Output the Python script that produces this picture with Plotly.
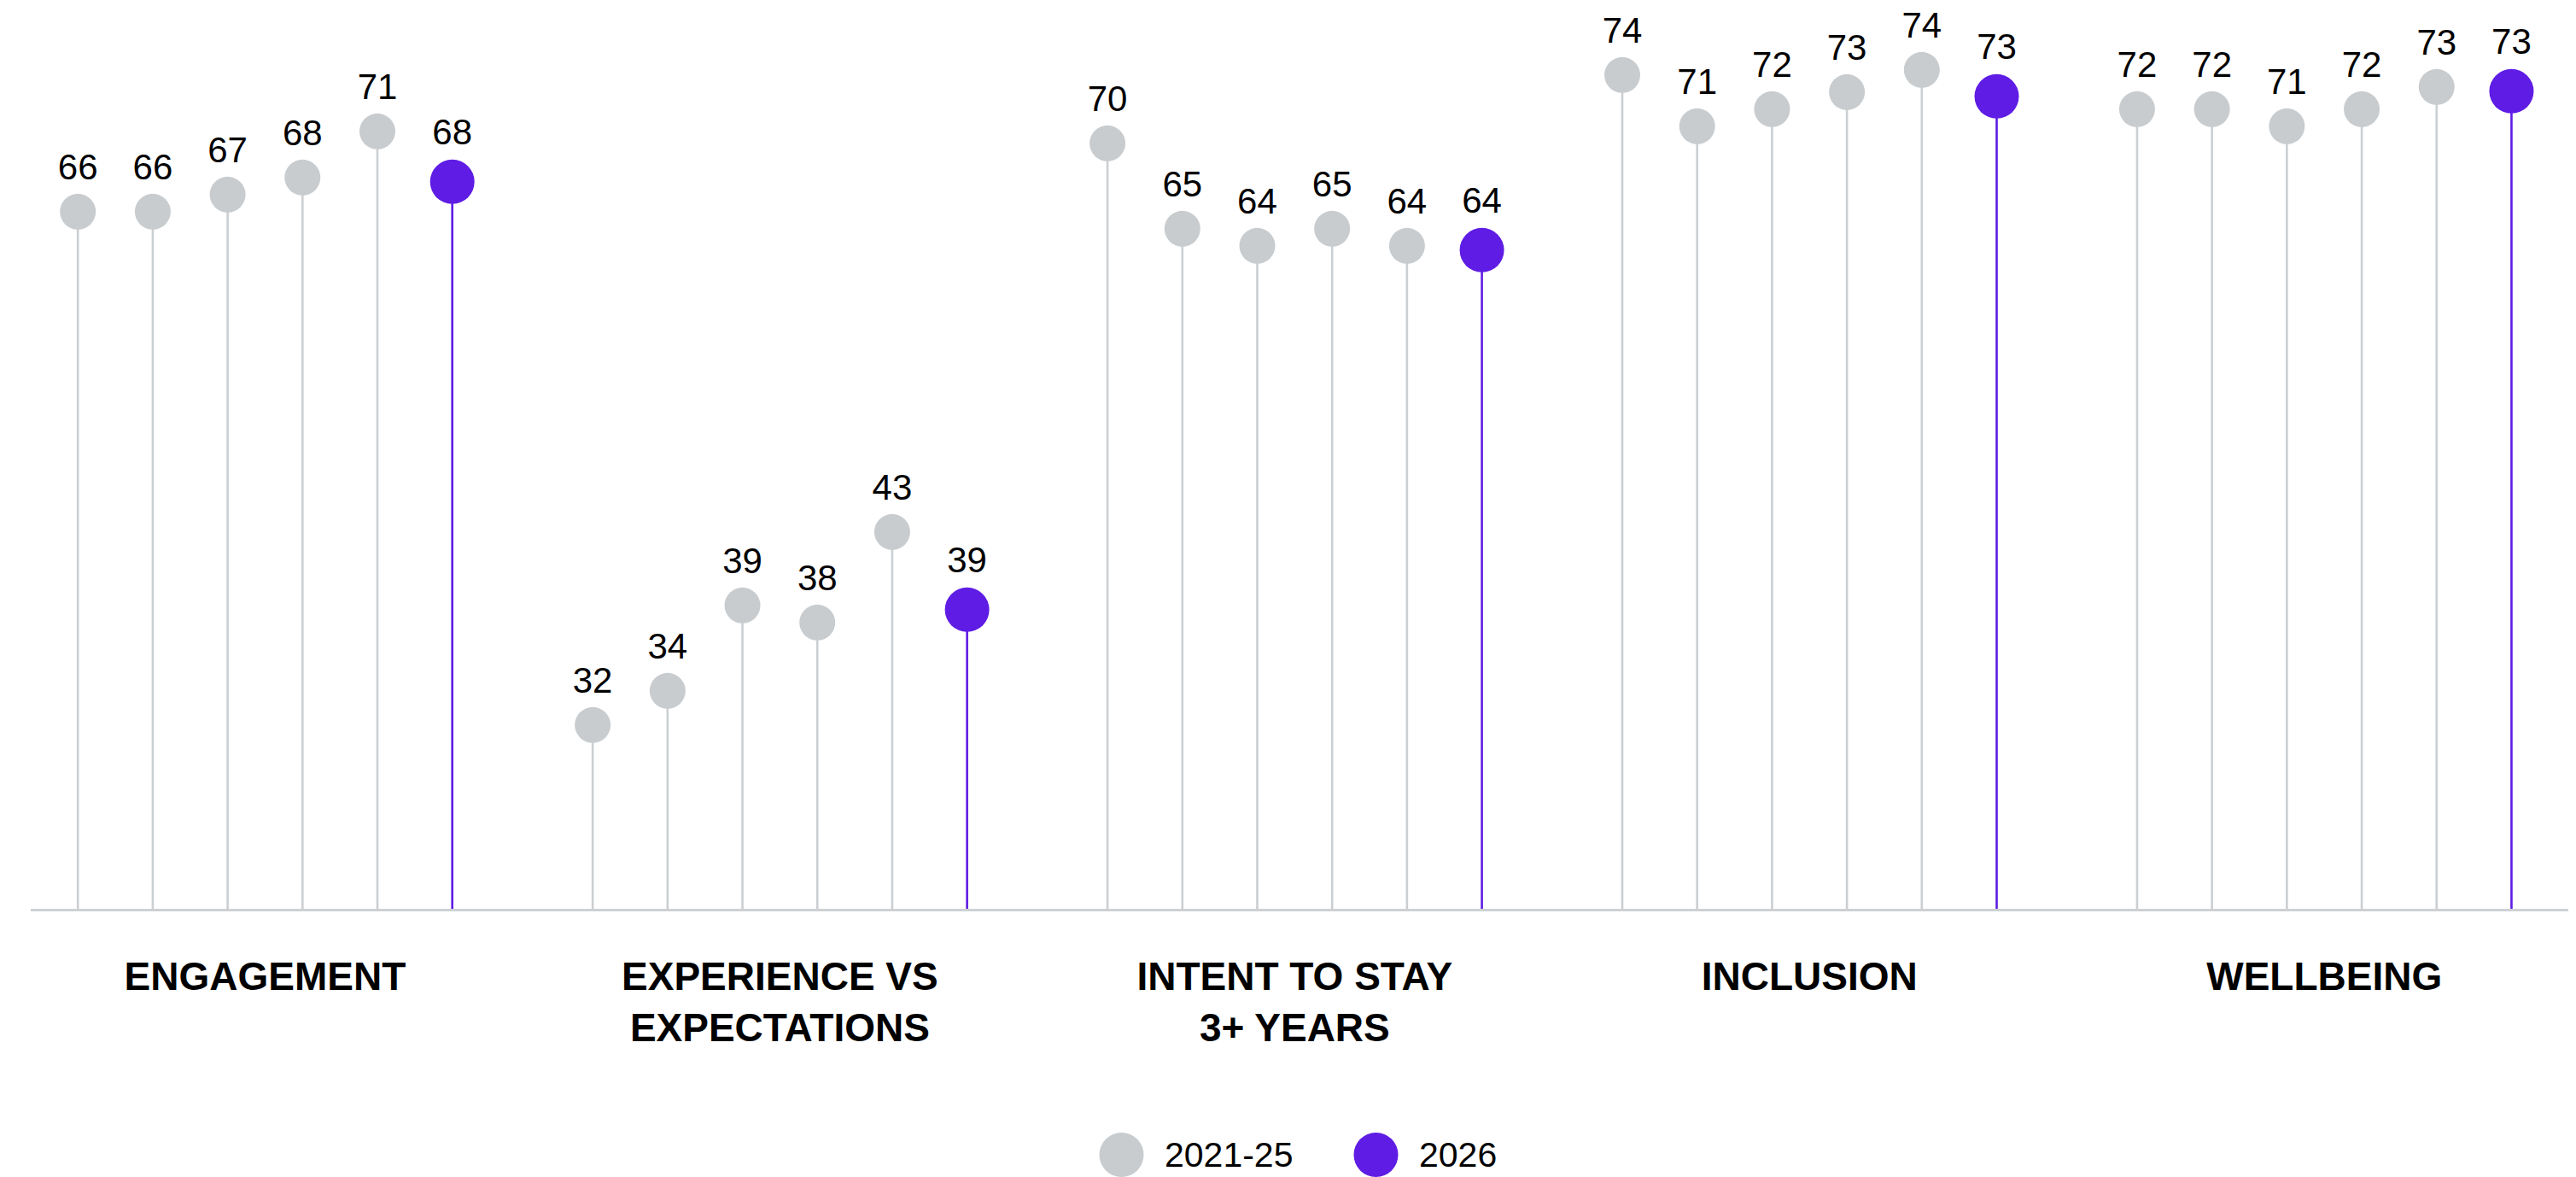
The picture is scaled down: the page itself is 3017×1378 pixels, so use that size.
import plotly.graph_objects as go

# ---------------- data ----------------
categories = ["ENGAGEMENT", "EXPERIENCE VS<br>EXPECTATIONS", "INTENT TO STAY<br>3+ YEARS",
              "INCLUSION", "WELLBEING"]
prior_years = ["2021", "2022", "2023", "2024", "2025"]
engagement_prior = [66, 66, 67, 68, 70.7]
experience_prior = [32, 34, 39, 38, 43.3]
intent_prior = [70, 65, 64, 65, 64]
inclusion_prior = [74, 71, 72, 73, 74.3]
wellbeing_prior = [72, 72, 71, 72, 73.3]
current_2026 = [68, 39, 64, 73, 73.3]
series_names = ["2021-25", "2026"]

prior_by_group = [engagement_prior, experience_prior, intent_prior,
                  inclusion_prior, wellbeing_prior]

# ---------------- styling / layout constants ----------------
GRAY = "#C8CCCF"
STEM_GRAY = "#CBCFD2"
PURPLE = "#5E1CE4"
AXIS_GRAY = "#CDD1D4"
FONT = "Liberation Sans, Arial, sans-serif"

W, H = 3017, 1378
ML, MR, MT, MB = 36, 9, 0, 314
PLOT_W = W - ML - MR
PLOT_H = H - MT - MB
PX_PER_UNIT = 20.0
SPAN = PLOT_H / PX_PER_UNIT
axis_floor = [25.19, 21.24, 25.19, 25.19, 25.19]   # value at the baseline, per group axis
GROUP_PITCH = 6.875
X_PX_PER_UNIT = 87.7
X_LEFT = -55.2 / X_PX_PER_UNIT
X_RIGHT = X_LEFT + PLOT_W / X_PX_PER_UNIT

GRAY_SIZE = 42
PURPLE_SIZE = 52
purple_drop = (PURPLE_SIZE - GRAY_SIZE) / 2 / PX_PER_UNIT  # tops of markers aligned
VALUE_FONT = 42

fig = go.Figure()

for g, prior in enumerate(prior_by_group):
    yref = "y" if g == 0 else f"y{g + 1}"
    floor = axis_floor[g]
    xs = [g * GROUP_PITCH + i for i in range(len(prior))]
    fig.add_trace(go.Scatter(
        x=xs, y=prior, yaxis=yref, mode="markers+text",
        name=series_names[0], showlegend=False,
        text=[f"{v:.0f}" for v in prior], textposition="top center",
        textfont=dict(family=FONT, size=VALUE_FONT, color="#000000"),
        marker=dict(size=GRAY_SIZE, color=GRAY, line=dict(width=0)),
        error_y=dict(type="data", symmetric=False, array=[0] * len(prior),
                     arrayminus=[v - floor for v in prior],
                     thickness=2.6, width=0, color=STEM_GRAY),
        cliponaxis=False, hoverinfo="skip",
    ))
    cur = current_2026[g]
    cy = cur - purple_drop
    fig.add_trace(go.Scatter(
        x=[g * GROUP_PITCH + len(prior)], y=[cy], yaxis=yref, mode="markers+text",
        name=series_names[1], showlegend=False,
        text=[f"{cur:.0f}"], textposition="top center",
        textfont=dict(family=FONT, size=VALUE_FONT, color="#000000"),
        marker=dict(size=PURPLE_SIZE, color=PURPLE, line=dict(width=0)),
        error_y=dict(type="data", symmetric=False, array=[0],
                     arrayminus=[cy - floor], thickness=2.6, width=0, color=PURPLE),
        cliponaxis=False, hoverinfo="skip",
    ))

group_centers = [g * GROUP_PITCH + (len(prior_years)) / 2 for g in range(len(categories))]

layout = dict(
    width=W, height=H,
    margin=dict(l=ML, r=MR, t=MT, b=MB, pad=0),
    paper_bgcolor="white", plot_bgcolor="white",
    showlegend=False,
    xaxis=dict(range=[X_LEFT, X_RIGHT], showgrid=False, zeroline=False,
               showline=True, linecolor=AXIS_GRAY, linewidth=3,
               tickmode="array", tickvals=group_centers, ticktext=categories,
               ticks="", ticklabelstandoff=37,
               tickfont=dict(family=FONT, size=46, color="#000000", weight="bold"),
               fixedrange=True),
)
for g in range(len(categories)):
    key = "yaxis" if g == 0 else f"yaxis{g + 1}"
    ax = dict(range=[axis_floor[g], axis_floor[g] + SPAN], visible=False,
              showgrid=False, zeroline=False, fixedrange=True)
    if g > 0:
        ax["overlaying"] = "y"
    layout[key] = ax
fig.update_layout(**layout)

# ---------------- manual legend (large swatches) ----------------
def px_to_paper(px, py):
    return (px - ML) / PLOT_W, (MT + PLOT_H - py) / PLOT_H

legend_colors = [GRAY, PURPLE]
legend_marker_px = [1313.5, 1611.5]
legend_text_px = [1362, 1660]
legend_y_px = 1352
for name, col, mx, tx in zip(series_names, legend_colors, legend_marker_px, legend_text_px):
    ax_, ay_ = px_to_paper(mx, legend_y_px)
    fig.add_shape(type="circle", xref="paper", yref="paper",
                  xsizemode="pixel", ysizemode="pixel",
                  xanchor=ax_, yanchor=ay_, x0=-26, x1=26, y0=-26, y1=26,
                  fillcolor=col, line=dict(width=0), layer="above")
    txp, typ = px_to_paper(tx, legend_y_px)
    fig.add_annotation(x=txp, y=typ, xref="paper", yref="paper",
                       text=name, showarrow=False, xanchor="left", yanchor="middle",
                       font=dict(family=FONT, size=41, color="#000000"))

fig.write_html("out.html")
